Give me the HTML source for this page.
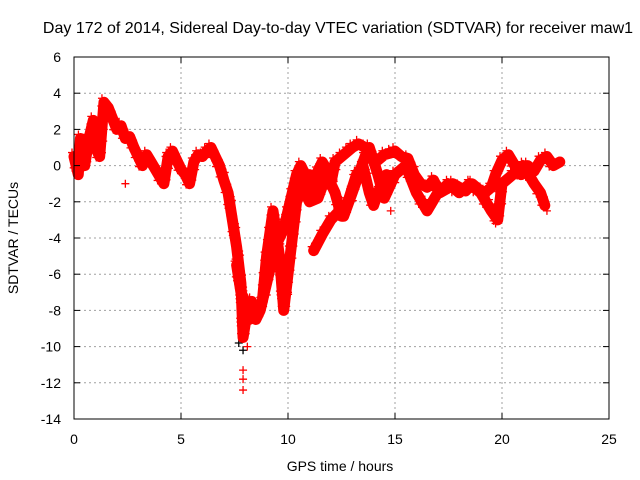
<!DOCTYPE html>
<html><head><meta charset="utf-8"><style>
body{margin:0;background:#fff;}
svg{display:block;font-family:"Liberation Sans",sans-serif;}
</style></head><body>
<svg id="chart" width="640" height="480">
<text x="338" y="33" text-anchor="middle" font-size="16">Day 172 of 2014, Sidereal Day-to-day VTEC variation (SDTVAR) for receiver maw1</text>
<text x="340" y="471" text-anchor="middle" font-size="14">GPS time / hours</text>
<text transform="translate(18,238) rotate(-90)" text-anchor="middle" font-size="14">SDTVAR / TECUs</text>
<g id="grid"></g><g id="marks"></g><g id="axes"></g>
</svg>
<script>
const xTicks=[0,5,10,15,20,25];
const yTicks=[6,4,2,0,-2,-4,-6,-8,-10,-12,-14];
const trackAx=[0,0.2,0.3,0.5,0.7,0.9,1.0,1.2,1.4,1.6,1.8,2.0,2.2,2.4,2.6,2.8,3.0,3.2,3.4,3.6,3.8,4.2,4.4,4.6,4.8,5.0,5.2,5.4,5.6,5.8,6.0,6.2,6.4,6.6,6.8,7.0,7.2,7.4,7.6,7.8,7.9,8.1,8.3,8.5,8.7,9.0,9.2,9.4,9.6,9.8,10.0,10.2,10.4,10.6,10.8,11.0,11.2,11.4,11.6,11.8,12.0,12.2,12.5,12.8,13.0,13.3,13.6,13.9,14.2,14.5,14.8,15.0,15.3,15.6,15.9,16.2,16.5,16.8,17.1,17.4,17.7,18.0,18.3,18.6,18.9,19.2,19.5,19.7,20.0,20.3,20.6,20.9,21.2,21.5,21.8,22.1,22.4,22.7];
const trackAy=[0.5,-0.5,1.5,0,1.5,2.5,1.0,0.5,3.5,3.2,2.6,2.0,2.2,1.5,1.6,1.0,0.5,0,0.6,0.2,-0.2,-1.0,0.5,0.8,0.3,-0.2,-0.5,-1.0,0.2,0.6,0.5,0.8,1.0,0.5,0,-0.8,-1.5,-3.0,-4.5,-6.5,-9.5,-8.0,-7.5,-8.5,-8.0,-6.5,-5.5,-4.5,-4.0,-3.5,-2.5,-1.5,-0.5,0,-0.5,-1.5,-0.8,-0.3,0.2,-0.2,-1.0,0.2,0.5,0.8,1.0,1.2,1.0,0.5,0.3,0.6,0.7,0.8,0.5,0.4,-0.5,-1.0,-1.2,-0.8,-1.5,-1.3,-1.0,-1.2,-1.4,-1.0,-1.3,-1.5,-1.2,-0.5,0.3,0.6,0,-0.5,0,-0.3,0.3,0.5,0,0.2];
const trackBx=[7.6,7.8,8.0,8.2,8.5,8.8,9.0,9.3,9.6,9.8,10.0,10.2,10.4,10.6,10.8,11.0];
const trackBy=[-5.5,-7.0,-7.5,-8.5,-8.0,-7.5,-5.0,-2.5,-5.0,-8.0,-6.0,-4.0,-2.0,-1.5,-1.0,-0.5];
const trackCx=[10.2,10.6,11.0,11.4,11.8,12.2,12.5,12.8,13.2,13.5,13.8,14.0,14.2,14.6];
const trackCy=[-2.0,-1.0,-2.0,-1.8,-0.5,-1.5,-2.8,-2.0,-0.5,0,-1.5,-2.2,-1.5,-0.5];
const trackDx=[11.2,11.6,12.0,12.4,12.6,13.0,13.3,13.6,13.8,14.2,14.5,15.0,15.5,16.0,16.5,17.0,17.5,18.0,18.5,19.0,19.5,19.8,20.0,20.5,21.0,21.5,21.8,22.0];
const trackDy=[-4.7,-3.8,-3.0,-2.5,-2.8,-1.5,-0.5,0.5,1.0,-0.5,-1.8,-0.5,0,-1.5,-2.5,-1.5,-1.0,-1.5,-1.0,-1.5,-2.5,-3.0,-1.0,-0.5,0,-1.0,-1.5,-2.2];
const outlierX=[2.4,7.9,7.9,7.9,8.1,9.8,10.0,10.1,14.8,19.7,22.1];
const outlierY=[-1.0,-11.3,-11.8,-12.4,-10.0,-6.8,-7.0,-5.5,-2.5,-3.2,-2.5];
const blackX=[7.7,7.9,9.2];
const blackY=[-9.8,-10.2,-5.8];
const ns="http://www.w3.org/2000/svg";
const X0=74,X1=609,Y0=57,Y1=419;
function sx(v){return X0+(v-0)/25*(X1-X0);}
function sy(v){return Y0+(6-v)/20*(Y1-Y0);}
const grid=document.getElementById('grid'),axes=document.getElementById('axes'),marks=document.getElementById('marks');
function mk(tag,attrs,parent){const e=document.createElementNS(ns,tag);for(const k in attrs)e.setAttribute(k,attrs[k]);parent.appendChild(e);return e;}
xTicks.forEach(t=>{
  if(t>0&&t<25){const l=mk('line',{x1:sx(t),x2:sx(t),y1:Y0,y2:Y1,stroke:'#a0a0a0','stroke-dasharray':'2,3'},grid);
  
  }
  const tx=mk('text',{x:sx(t),y:Y1+25,'text-anchor':'middle','font-size':14},axes);tx.textContent=t;
  
  
  mk('line',{x1:sx(t),x2:sx(t),y1:Y1,y2:Y1-6,stroke:'#000'},axes);
  mk('line',{x1:sx(t),x2:sx(t),y1:Y0,y2:Y0+6,stroke:'#000'},axes);
});
yTicks.forEach(t=>{
  if(t<6&&t>-14){const l=mk('line',{x1:X0,x2:X1,y1:sy(t),y2:sy(t),stroke:'#a0a0a0','stroke-dasharray':'2,3'},grid);
  
  }
  const tx=mk('text',{x:X0-13,y:sy(t)+5,'text-anchor':'end','font-size':14},axes);tx.textContent=t;
  
  
  mk('line',{x1:X0,x2:X0+6,y1:sy(t),y2:sy(t),stroke:'#000'},axes);
  mk('line',{x1:X1,x2:X1-6,y1:sy(t),y2:sy(t),stroke:'#000'},axes);
});
const frame=mk('rect',{x:X0,y:Y0,width:X1-X0,height:Y1-Y0,fill:'none',stroke:'#000'},axes);


function plusPx(px,py,color,parent){
  mk('path',{d:`M${px-4},${py}h8M${px},${py-4}v8`,stroke:color,'stroke-width':1.3,fill:'none'},parent);
}
function plus(x,y,color,parent){plusPx(sx(x),sy(y),color,parent);}
const bg=mk('g',{},marks);


blackX.forEach((x,i)=>plus(x,blackY[i],'#000',bg));
[[trackAx,trackAy,'track-a'],[trackBx,trackBy,'track-b'],[trackCx,trackCy,'track-c'],[trackDx,trackDy,'track-d']].forEach(([xs,ys,name])=>{
  const g=mk('g',{},marks);
  
  
  mk('polyline',{points:xs.map((x,i)=>sx(x)+','+sy(ys[i])).join(' '),fill:'none',stroke:'#f00','stroke-width':11,'stroke-linejoin':'round','stroke-linecap':'round'},g);
  for(let i=0;i<xs.length-1;i++){
    const ax=sx(xs[i]),ay=sy(ys[i]),bx=sx(xs[i+1]),by=sy(ys[i+1]);
    const len=Math.hypot(bx-ax,by-ay),n=Math.max(1,Math.round(len/4));
    for(let k=0;k<n;k++){const t=k/n;const off=((k%3)-1)*4;
      plusPx(ax+(bx-ax)*t+((k%2)?2:-2),ay+(by-ay)*t+off,'#f00',g);}
  }
  xs.forEach((x,i)=>plus(x,ys[i],'#f00',g));
});
const og=mk('g',{},marks);


outlierX.forEach((x,i)=>plus(x,outlierY[i],'#f00',og));
</script>
</body></html>
